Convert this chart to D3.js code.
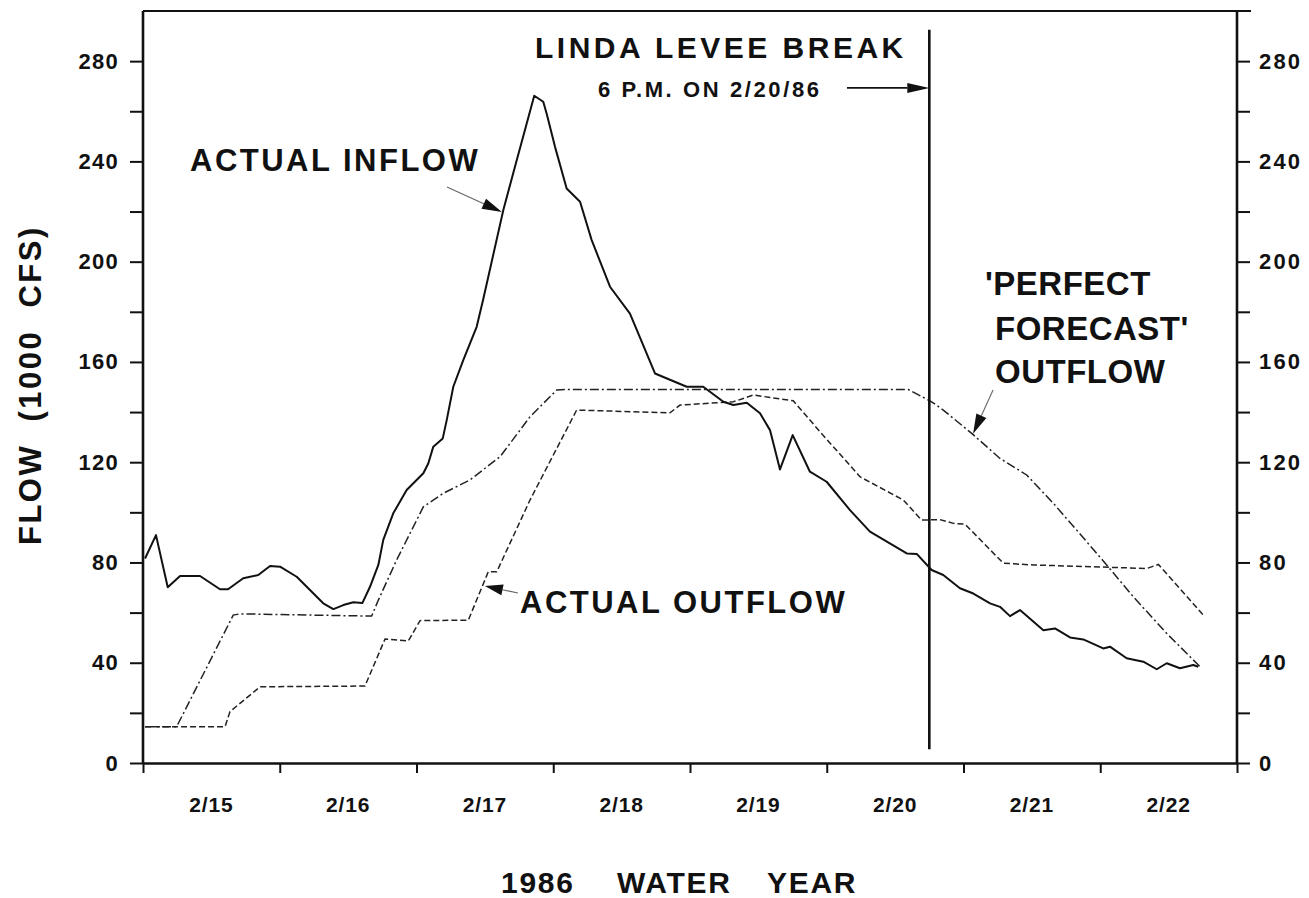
<!DOCTYPE html>
<html><head><meta charset="utf-8">
<script src="https://cdn.jsdelivr.net/npm/d3@7"></script>
<style>
body{margin:0;background:#fff;}
svg text{font-family:"Liberation Sans",Arial,Helvetica,sans-serif;font-weight:bold;fill:#111;}
</style></head><body>
<svg id="chart" width="1309" height="898"></svg>
<script>
// ---- data (days after 2/15 00:00, flow in 1000 cfs) ----
const dayLabels = ["2/15","2/16","2/17","2/18","2/19","2/20","2/21","2/22"];
const yTickValues = [0,20,40,60,80,100,120,140,160,180,200,220,240,260,280];
const yLabelValues = [0,40,80,120,160,200,240,280];

const inflowDay = [0.015,0.095,0.181,0.271,0.417,0.563,0.622,0.733,0.843,0.929,1.002,1.124,1.221,1.318,1.392,1.465,1.538,1.604,1.660,1.721,1.757,1.830,1.928,2.050,2.086,2.123,2.192,2.221,2.269,2.342,2.440,2.488,2.635,2.720,2.861,2.927,2.952,3.013,3.098,3.196,3.281,3.415,3.561,3.744,3.976,4.097,4.244,4.317,4.415,4.512,4.585,4.658,4.751,4.877,4.999,5.170,5.316,5.585,5.658,5.767,5.852,5.974,6.072,6.194,6.267,6.340,6.413,6.584,6.669,6.779,6.876,7.022,7.071,7.193,7.315,7.413,7.486,7.583,7.680,7.717];
const inflowFlow = [81.6,90.9,70.1,74.6,74.6,69.3,69.3,73.7,75.0,78.6,78.3,74.3,69.0,63.7,61.4,63.0,64.1,63.8,70.3,79.0,89.0,99.6,108.9,115.6,119.5,126.2,129.5,136.8,150.1,160.7,174.0,185.0,220.6,237.9,266.2,263.8,259.0,245.8,229.2,223.9,208.6,190.0,179.3,155.4,150.1,150.1,144.1,142.8,143.7,139.5,132.8,117.1,130.8,116.2,112.2,100.9,92.3,83.6,83.4,77.0,75.0,69.7,67.6,63.7,62.3,58.6,61.0,53.0,53.7,50.1,49.3,45.7,46.4,41.8,40.4,37.4,39.8,37.8,39.1,38.4];

const outflowDay = [0.015,0.600,0.636,0.856,1.623,1.770,1.940,2.026,2.379,2.525,2.587,2.830,3.171,3.854,3.927,4.317,4.463,4.755,4.950,5.243,5.560,5.694,5.828,5.925,6.011,6.291,6.510,6.755,7.340,7.425,7.754];
const outflowFlow = [14.5,14.5,20.5,30.4,30.7,49.5,48.7,56.8,57.0,76.3,76.3,104.9,140.8,139.7,142.8,144.1,146.8,144.5,132.2,114.2,104.9,96.9,97.1,95.6,95.3,79.7,79.0,78.6,77.6,79.2,59.0];

const forecastDay = [0.015,0.246,0.660,0.709,1.672,1.721,1.855,2.050,2.196,2.391,2.611,2.830,3.025,3.086,5.596,5.767,5.852,6.060,6.267,6.462,6.657,6.828,7.047,7.242,7.486,7.730];
const forecastFlow = [14.5,14.5,59.0,59.5,58.6,65.0,81.0,102.2,107.6,112.9,122.2,138.1,148.8,149.0,149.0,144.1,140.8,131.5,121.5,114.9,103.6,92.9,79.0,66.3,51.7,38.4];

const leveeBreakDay = 5.75; // 6 P.M. on 2/20/86

// ---- layout ----
const svg = d3.select("#chart");
const x = d3.scaleLinear([0, 8], [143, 1237]);
const y = d3.scaleLinear([0, 300], [763, 11]);

// top frame line
svg.append("line").attr("x1", x(0)).attr("x2", x(8) + 14).attr("y1", y(300)).attr("y2", y(300))
  .attr("stroke", "#111").attr("stroke-width", 2.2);

// left axis
const gl = svg.append("g").attr("transform", `translate(${x(0)},0)`)
  .call(d3.axisLeft(y).tickValues(yTickValues).tickSize(13).tickSizeOuter(0).tickPadding(11)
    .tickFormat(d => yLabelValues.includes(d) ? d : ""));
// right axis
const gr = svg.append("g").attr("transform", `translate(${x(8)},0)`)
  .call(d3.axisRight(y).tickValues(yTickValues).tickSize(13).tickSizeOuter(0).tickPadding(9)
    .tickFormat(d => yLabelValues.includes(d) ? d : ""));
// bottom axis
const gb = svg.append("g").attr("transform", `translate(0,${y(0)})`)
  .call(d3.axisBottom(x).tickValues(d3.range(0, 9)).tickSize(10).tickSizeOuter(0).tickFormat(""));

[gl, gr, gb].forEach(g => {
  g.select(".domain").attr("stroke", "#111").attr("stroke-width", 2.6);
  g.selectAll(".tick line").attr("stroke", "#111").attr("stroke-width", 2);
  g.selectAll(".tick text").attr("font-size", 22).attr("letter-spacing", 1.3).attr("fill", "#111");
});
gr.selectAll(".tick text").attr("letter-spacing", 2.2);
gl.select(".domain").attr("d", `M0,${y(300)}V${y(0)}`);
gr.select(".domain").attr("d", `M0,${y(300)}V${y(0)}`);

// day labels
svg.append("g").selectAll("text").data(dayLabels).join("text")
  .attr("x", (d, i) => x(i + 0.5)).attr("y", 812)
  .attr("text-anchor", "middle").attr("font-size", 21).attr("letter-spacing", 0.8)
  .text(d => d);

// axis titles
svg.append("text")
  .attr("transform", `translate(41,545) rotate(-90)`)
  .attr("font-size", 31).attr("letter-spacing", 2.5)
  .attr("xml:space", "preserve").style("white-space", "pre")
  .text("FLOW  (1000  CFS)");

const xt = svg.append("text").attr("y", 893).attr("font-size", 30).attr("letter-spacing", 1.7);
xt.append("tspan").attr("x", 501).text("1986");
xt.append("tspan").attr("x", 617).text("WATER");
xt.append("tspan").attr("x", 767).text("YEAR");

// ---- series ----
const line = d3.line().x(d => x(d[0])).y(d => y(d[1]));
const zip = (a, b) => a.map((v, i) => [v, b[i]]);

svg.append("path").datum(zip(forecastDay, forecastFlow))
  .attr("d", line).attr("fill", "none").attr("stroke", "#222").attr("stroke-width", 1.5)
  .attr("stroke-dasharray", "9,3,2,3");
svg.append("path").datum(zip(outflowDay, outflowFlow))
  .attr("d", line).attr("fill", "none").attr("stroke", "#222").attr("stroke-width", 1.5)
  .attr("stroke-dasharray", "6,3");
svg.append("path").datum(zip(inflowDay, inflowFlow))
  .attr("d", line).attr("fill", "none").attr("stroke", "#111").attr("stroke-width", 2)
  .attr("stroke-linejoin", "round");

// levee break line
svg.append("line").attr("x1", x(leveeBreakDay)).attr("x2", x(leveeBreakDay))
  .attr("y1", y(292.5)).attr("y2", y(5.5)).attr("stroke", "#111").attr("stroke-width", 2.6);

// ---- annotations ----
function arrow(d0, v0, d1, v1, len, wid, sw, col) {
  const x0 = x(d0), y0 = y(v0), x1 = x(d1), y1 = y(v1);
  const a = Math.atan2(y1 - y0, x1 - x0);
  const bx = x1 - len * Math.cos(a), by = y1 - len * Math.sin(a);
  svg.append("line").attr("x1", x0).attr("y1", y0).attr("x2", bx).attr("y2", by)
    .attr("stroke", col).attr("stroke-width", sw);
  const px = Math.sin(a) * wid / 2, py = -Math.cos(a) * wid / 2;
  svg.append("path").attr("d", `M${x1},${y1}L${bx + px},${by + py}L${bx - px},${by - py}Z`).attr("fill", "#111");
}
arrow(5.148, 269.3, leveeBreakDay, 269.3, 22, 10, 1.8, "#111");
arrow(2.223, 229.8, 2.625, 219.8, 20, 11, 1.1, "#666");
arrow(2.742, 67.8, 2.500, 70.6, 18, 11, 1.1, "#666");
arrow(6.216, 148.8, 6.070, 131.3, 20, 11, 1.1, "#666");

const labels = [
  {t: "LINDA LEVEE BREAK", x: 535, y: 58, s: 30, ls: 3.5},
  {t: "6 P.M. ON 2/20/86", x: 598, y: 97, s: 22, ls: 2.6},
  {t: "ACTUAL INFLOW", x: 190, y: 171, s: 31, ls: 2.5},
  {t: "ACTUAL OUTFLOW", x: 520, y: 613, s: 31, ls: 2.5},
  {t: "'PERFECT", x: 985, y: 295, s: 33, ls: 0.5},
  {t: "FORECAST'", x: 995, y: 340, s: 33, ls: 0.5},
  {t: "OUTFLOW", x: 995, y: 383, s: 33, ls: 0.5}
];
svg.append("g").selectAll("text").data(labels).join("text")
  .attr("x", d => d.x).attr("y", d => d.y).attr("font-size", d => d.s)
  .attr("letter-spacing", d => d.ls).attr("xml:space", "preserve").style("white-space", "pre")
  .text(d => d.t);
</script>
</body></html>
